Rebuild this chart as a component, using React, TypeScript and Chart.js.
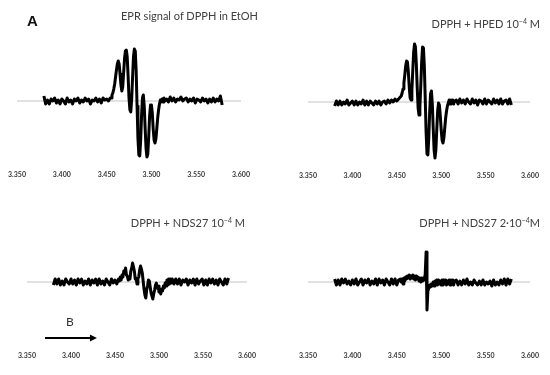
import React, { useEffect, useRef } from "react";
import { Chart, registerables } from "chart.js";
Chart.register(...registerables);

// Magnetic field B (arbitrary field units shown on the axis)
const FIELD = [
  3.380, 3.382, 3.384, 3.386, 3.388, 3.390, 3.392, 3.394, 3.396, 3.398,
  3.400, 3.402, 3.404, 3.406, 3.408, 3.410, 3.412, 3.414, 3.416, 3.418,
  3.420, 3.422, 3.424, 3.426, 3.428, 3.430, 3.432, 3.434, 3.436, 3.438,
  3.440, 3.442, 3.444, 3.446, 3.448, 3.450, 3.452, 3.454,
  3.455, 3.456, 3.457, 3.458, 3.459, 3.460, 3.461, 3.462, 3.463, 3.464,
  3.465, 3.466, 3.467, 3.468, 3.469, 3.470, 3.471, 3.472, 3.473, 3.474,
  3.475, 3.476, 3.477, 3.478, 3.479, 3.480, 3.481, 3.482, 3.483, 3.484,
  3.485, 3.486, 3.487, 3.488, 3.489, 3.490, 3.491, 3.492, 3.493, 3.494,
  3.495, 3.496, 3.497, 3.498, 3.499, 3.500, 3.501, 3.502, 3.503, 3.504,
  3.505, 3.506, 3.507, 3.508, 3.509, 3.510, 3.511, 3.512, 3.513, 3.514, 3.515,
  3.517, 3.519, 3.521, 3.523, 3.525, 3.527, 3.529, 3.531, 3.533, 3.535,
  3.537, 3.539, 3.541, 3.543, 3.545, 3.547, 3.549, 3.551, 3.553, 3.555,
  3.557, 3.559, 3.561, 3.563, 3.565, 3.567, 3.569, 3.571, 3.573, 3.575,
  3.577, 3.579,
];

// EPR signal of DPPH in EtOH
const DPPH_ETOH = [
  5, -3, 1, -3, 2, 0, 3, -2, 1, -3,
  2, 0, -3, 3, -1, 1, -3, 2, 0, 3,
  -2, 1, -1, 3, 0, 2, -3, 1, 0, 3,
  -1, 2, -2, 3, 1, 2, 0, 3,
  3, 6, 8, 12, 17, 24, 31, 37, 40, 37,
  27, 16, 10, 14, 28, 42, 50, 51, 44, 25,
  3, -9, -11, 2, 24, 44, 52, 50, 30, -5,
  -38, -54, -55, -40, -15, 3, 6, -5, -27, -47,
  -56, -53, -36, -15, -4, -4, -12, -28, -39, -42,
  -38, -28, -17, -9, -3, 1, -1, 2, -1, 3, 0,
  2, -1, 4, 0, 3, -1, 2, 1, 4, 0,
  2, 3, -1, 2, 0, 3, -2, 2, 1, -1,
  3, 0, 2, -2, 2, -1, 3, -1, 2, 0,
  5, -4,
];

// DPPH + HPED 1e-4 M
const DPPH_HPED = [
  -4, 1, -3, 1, -3, 0, -2, 2, -3, -1,
  1, -3, 1, -3, 0, -2, 2, -3, 1, -3,
  1, -1, -3, 1, -2, 1, -3, 0, 1, -2,
  2, -1, 2, 0, 3, 1, 3, 5,
  6, 9, 13, 19, 27, 36, 41, 40, 30, 15,
  4, 2, 12, 32, 50, 58, 55, 38, 14, -6,
  -13, -5, 16, 40, 55, 54, 36, 4, -30, -52,
  -53, -36, -10, 8, 11, -2, -26, -48, -56, -48,
  -28, -9, -1, -3, -14, -28, -38, -41, -36, -26,
  -16, -9, -4, -1, 2, -2, 2, -1, 2, -2, 1,
  2, -2, 3, -1, 2, -2, 3, 0, -2, 3,
  -1, 2, -3, 2, 1, -2, 3, -2, 2, 0,
  -2, 3, -1, 2, -2, 3, -2, 1, 2, -2,
  3, -3,
];

// DPPH + NDS27 1e-4 M
const DPPH_NDS27_1 = [
  -3, 3, -2, 3, -3, 1, -3, 3, 0, -2,
  3, -2, 2, -3, 3, -1, 3, -3, 1, -2,
  3, -3, 2, -1, 3, -3, 3, -2, 1, -3,
  3, 0, -3, 3, -1, 2, -2, 3,
  1, 5, 2, 7, 5, 11, 9, 14, 7, 6,
  2, 5, 3, 11, 14, 19, 15, 11, 3, 4,
  -2, 3, 5, 12, 16, 13, 9, 1, -7, -13,
  -16, -8, -4, 2, 1, -5, -11, -14, -17, -12,
  -8, -3, -1, -6, -4, -10, -8, -12, -7, -9,
  -4, -6, -1, -4, 2, -3, 3, -2, 3, -1, 3,
  -2, 3, -2, 3, -3, 2, 0, 3, -3, 2,
  -1, 3, -3, 3, -2, 1, 3, -3, 2, -3,
  3, -1, 3, -2, 2, -3, 3, 0, -3, 3,
  -2, 4,
];

// DPPH + NDS27 2e-4 M
const DPPH_NDS27_2 = [
  3, -3, 2, -3, 3, -1, 3, -2, 1, -3,
  2, -2, 3, -3, 0, 3, -3, 2, -1, 3,
  -3, 1, -2, 3, -3, 3, -1, 2, -3, 3,
  0, -3, 3, -2, 3, -3, 2, 3,
  0, 3, -2, 4, 1, 5, 3, 6, 4, 7,
  3, 6, 4, 7, 3, 6, 2, 6, 3, 5,
  1, 4, 0, 4, 1, 4, 2, 8, 30, -28,
  -9, -6, -3, -5, -2, -4, 0, -4, 1, -3,
  2, -3, 2, -2, 1, -3, 2, -3, 2, -2,
  2, -3, 1, -2, 2, -3, 2, -1, 2, -3, 1,
  2, -3, 1, -3, 2, -2, 3, -3, 0, -3,
  2, -1, -3, 1, -3, 2, -3, 0, -2, 1,
  -4, 2, -3, 0, -3, 2, -2, 3, -3, 3,
  -2, 3,
];

const X_TICKS = [3.35, 3.4, 3.45, 3.5, 3.55, 3.6];
const X_MIN = 3.35;
const X_MAX = 3.6;
const ZERO_LINE = [3.35, 3.6];
const ARROW_FROM = 3.3705;
const ARROW_TO = 3.4295;

const arrowPlugin = {
  id: "fieldArrow",
  afterDraw(chart: any) {
    const { ctx, chartArea } = chart;
    const xs = chart.scales.x;
    const x0 = xs.getPixelForValue(ARROW_FROM);
    const x1 = xs.getPixelForValue(ARROW_TO);
    const y = chartArea.bottom - 10;
    ctx.save();
    ctx.strokeStyle = "#000";
    ctx.fillStyle = "#000";
    ctx.lineWidth = 1.8;
    ctx.beginPath();
    ctx.moveTo(x0, y);
    ctx.lineTo(x1 - 5, y);
    ctx.stroke();
    ctx.beginPath();
    ctx.moveTo(x1, y);
    ctx.lineTo(x1 - 7, y - 3.5);
    ctx.lineTo(x1 - 7, y + 3.5);
    ctx.closePath();
    ctx.fill();
    ctx.restore();
  },
};

type PanelProps = {
  left: number;
  top: number;
  width: number;
  height: number;
  pad: { left: number; right: number; top: number; bottom: number };
  values: number[];
  arrow?: boolean;
};

function Panel({ left, top, width, height, pad, values, arrow }: PanelProps) {
  const ref = useRef<HTMLCanvasElement | null>(null);
  useEffect(() => {
    if (!ref.current) return;
    const spectrum = FIELD.map((b, i) => ({ x: b, y: values[i] }));
    const zero = ZERO_LINE.map((b) => ({ x: b, y: 0 }));
    const chart = new Chart(ref.current, {
      type: "line",
      data: {
        datasets: [
          {
            data: zero,
            borderColor: "#c4c4c4",
            borderWidth: 1,
            pointRadius: 0,
            order: 2,
          },
          {
            data: spectrum,
            borderColor: "#000000",
            borderWidth: 3,
            pointRadius: 0,
            tension: 0,
            borderJoinStyle: "round",
            order: 1,
          },
        ],
      },
      options: {
        responsive: false,
        animation: false,
        devicePixelRatio: 1,
        layout: { padding: pad },
        plugins: {
          legend: { display: false },
          tooltip: { enabled: false },
          title: { display: false },
        },
        scales: {
          x: {
            type: "linear",
            min: X_MIN,
            max: X_MAX,
            afterBuildTicks: (s: any) => {
              s.ticks = X_TICKS.map((v) => ({ value: v }));
            },
            ticks: {
              callback: (v: any) => Number(v).toFixed(3),
              font: { family: "Lato", size: 7, weight: "bold" },
              color: "#3a3a3a",
              padding: 4,
              maxRotation: 0,
              autoSkip: false,
            },
            grid: { display: false, drawTicks: false, tickLength: 0 },
            border: { display: false },
          },
          y: { display: false, min: -66, max: 70 },
        },
      },
      plugins: arrow ? [arrowPlugin] : [],
    } as any);
    return () => chart.destroy();
  }, []);
  return (
    <canvas
      ref={ref}
      width={width}
      height={height}
      style={{ position: "absolute", left, top, width, height }}
    />
  );
}

const titleStyle: React.CSSProperties = {
  position: "absolute",
  fontFamily: "Lato, 'Open Sans', sans-serif",
  fontSize: 11,
  lineHeight: "13px",
  color: "#404040",
  whiteSpace: "nowrap",
};
const supStyle: React.CSSProperties = { fontSize: 7, verticalAlign: "4px", lineHeight: 0 };

export default function App() {
  return (
    <div
      style={{
        position: "absolute",
        left: 0,
        top: 0,
        width: 550,
        height: 375,
        background: "#ffffff",
        overflow: "hidden",
      }}
    >
      <Panel left={0} top={0} width={275} height={188} pad={{ left: 17, right: 34, top: 31, bottom: 4.6 }} values={DPPH_ETOH} />
      <Panel left={275} top={0} width={275} height={188} pad={{ left: 33, right: 20, top: 32, bottom: 3.6 }} values={DPPH_HPED} />
      <Panel left={0} top={188} width={275} height={187} pad={{ left: 27, right: 28, top: 24, bottom: 10.6 }} values={DPPH_NDS27_1} arrow />
      <Panel left={275} top={188} width={275} height={187} pad={{ left: 33, right: 20, top: 24, bottom: 10.6 }} values={DPPH_NDS27_2} />

      <div style={{ position: "absolute", left: 27, top: 13, fontFamily: "'Liberation Sans', Arial, sans-serif", fontWeight: 700, fontSize: 15, lineHeight: "15px", color: "#111" }}>A</div>
      <div style={{ ...titleStyle, right: 292, top: 9 }}>EPR signal of DPPH in EtOH</div>
      <div style={{ ...titleStyle, right: 10, top: 16.5 }}>
        DPPH + HPED 10<sup style={supStyle}>−4</sup> M
      </div>
      <div style={{ ...titleStyle, right: 305, top: 215.5 }}>
        DPPH + NDS27 10<sup style={supStyle}>−4</sup> M
      </div>
      <div style={{ ...titleStyle, right: 10, top: 215.5 }}>
        DPPH + NDS27 2·10<sup style={supStyle}>−4</sup>M
      </div>
      <div style={{ position: "absolute", left: 66, top: 315, fontFamily: "Lato, sans-serif", fontSize: 12, lineHeight: "14px", color: "#333" }}>B</div>
    </div>
  );
}
